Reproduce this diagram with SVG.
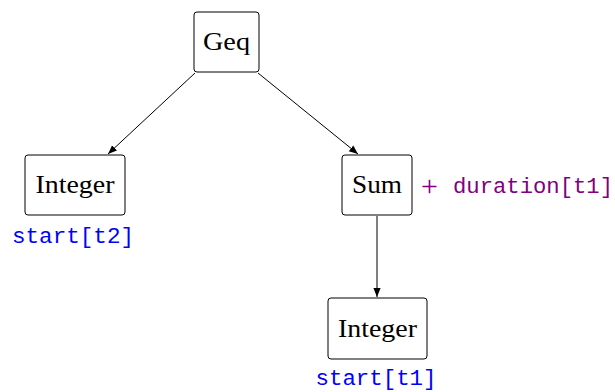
<svg xmlns="http://www.w3.org/2000/svg" width="615" height="392" viewBox="0 0 615 392">
<defs>
<marker id="arr" viewBox="0 0 10 10" refX="10" refY="5" markerWidth="9" markerHeight="9" markerUnits="userSpaceOnUse" orient="auto">
<path d="M0,1 L10,5 L0,9 Z" fill="#000"/>
</marker>
</defs>
<style>
.box{fill:#fff;stroke:#000;stroke-width:1}
.lbl{font-family:"Liberation Serif",serif;font-size:25px;fill:#000;text-anchor:middle}
.mono{font-family:"Liberation Mono",monospace;font-size:22px}
.edge{stroke:#000;stroke-width:1;fill:none;marker-end:url(#arr)}
</style>
<rect width="615" height="392" fill="#fff"/>
<g id="connectors">
<line class="edge" x1="195" y1="73" x2="108" y2="154"/>
<line class="edge" x1="258" y1="73" x2="358" y2="154"/>
<line class="edge" x1="377" y1="216" x2="377" y2="297"/>
</g>
<g id="geq">
<rect class="box" x="194" y="12" width="65" height="60" rx="3"/>
<text class="lbl" x="226.5" y="50" textLength="47" lengthAdjust="spacingAndGlyphs">Geq</text>
</g>
<g id="integer-left">
<rect class="box" x="25" y="155" width="100" height="60" rx="3"/>
<text class="lbl" x="75" y="193" textLength="79" lengthAdjust="spacingAndGlyphs">Integer</text>
<text class="mono" x="73" y="243" fill="#0000ff" text-anchor="middle" textLength="122" lengthAdjust="spacingAndGlyphs">start[t2]</text>
</g>
<g id="sum">
<rect class="box" x="342" y="155" width="70" height="60" rx="3"/>
<text class="lbl" x="377" y="193" textLength="50" lengthAdjust="spacingAndGlyphs">Sum</text>
<text x="421" y="196" font-family="Liberation Serif, serif" font-size="30" fill="#800080">+</text>
<text class="mono" x="453" y="193" fill="#800080" textLength="160" lengthAdjust="spacingAndGlyphs">duration[t1]</text>
</g>
<g id="integer-bottom">
<rect class="box" x="328" y="298" width="99" height="61" rx="3"/>
<text class="lbl" x="377.5" y="337" textLength="79" lengthAdjust="spacingAndGlyphs">Integer</text>
<text class="mono" x="376" y="385" fill="#0000ff" text-anchor="middle" textLength="121" lengthAdjust="spacingAndGlyphs">start[t1]</text>
</g>
</svg>
